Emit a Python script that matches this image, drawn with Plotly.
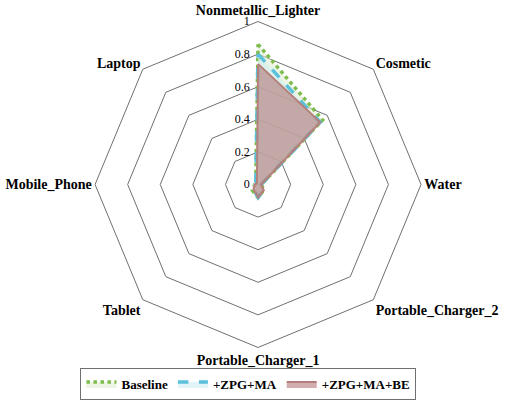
import plotly.graph_objects as go

categories = ["Nonmetallic_Lighter", "Cosmetic", "Water", "Portable_Charger_2",
              "Portable_Charger_1", "Tablet", "Mobile_Phone", "Laptop"]
baseline = [0.86, 0.56, 0.02, 0.05, 0.08, 0.05, 0.02, 0.02]
zpg_ma = [0.80, 0.54, 0.02, 0.05, 0.08, 0.04, 0.03, 0.02]
zpg_ma_be = [0.74, 0.54, 0.02, 0.05, 0.08, 0.04, 0.02, 0.01]
radial_ticks = [0, 0.2, 0.4, 0.6, 0.8, 1]
radial_labels = ["0", "0.2", "0.4", "0.6", "0.8", "1"]

def closed(v):
    return v + v[:1]

theta = closed(categories)
pad = "\u00a0\u00a0"

fig = go.Figure()
fig.add_trace(go.Scatterpolar(
    r=closed(baseline), theta=theta, name="Baseline", mode="lines",
    line=dict(color="#7DBB4A", width=3.5, dash="dot"),
    fill="toself", fillcolor="rgba(220,236,205,0.55)"))
fig.add_trace(go.Scatterpolar(
    r=closed(zpg_ma), theta=theta, name="+ZPG+MA", mode="lines",
    line=dict(color="#5BC0DA", width=3.5, dash="dash"),
    fill="toself", fillcolor="rgba(205,236,244,0.6)"))
fig.add_trace(go.Scatterpolar(
    r=closed(zpg_ma_be), theta=theta, name="+ZPG+MA+BE", mode="lines",
    line=dict(color="#B5807C", width=2),
    fill="toself", fillcolor="rgba(178,120,118,0.6)"))

fig.update_layout(
    width=505, height=402,
    margin=dict(l=0, r=0, t=0, b=0),
    paper_bgcolor="white", plot_bgcolor="white",
    font=dict(family="Liberation Serif", size=12, color="black"),
    polar=dict(
        domain=dict(x=[0.188, 0.834], y=[0.1356, 0.9465]),
        gridshape="linear",
        bgcolor="white",
        radialaxis=dict(range=[0, 1], tickvals=radial_ticks,
                        ticktext=[t + pad for t in radial_labels],
                        angle=90, tickangle=90, side="counterclockwise",
                        showline=False, ticks="",
                        gridcolor="#707070", gridwidth=1,
                        tickfont=dict(family="Liberation Serif", size=12, color="black")),
        angularaxis=dict(rotation=90, direction="clockwise", showgrid=False,
                         showline=True, linecolor="#707070", linewidth=1, ticks="",
                         tickfont=dict(family="Liberation Serif", size=14, color="black",
                                       weight="bold")),
    ),
    legend=dict(orientation="h", x=0.492, xanchor="center", y=0.005, yanchor="bottom",
                bordercolor="#707070", borderwidth=1, itemwidth=30,
                font=dict(family="Liberation Serif", size=13, color="black", weight="bold")),
)

# remove the browser's default body margin so the figure sits at the window's corner
fig.write_html("out.html", config={"displayModeBar": False},
               post_script="document.body.style.margin='0';")
